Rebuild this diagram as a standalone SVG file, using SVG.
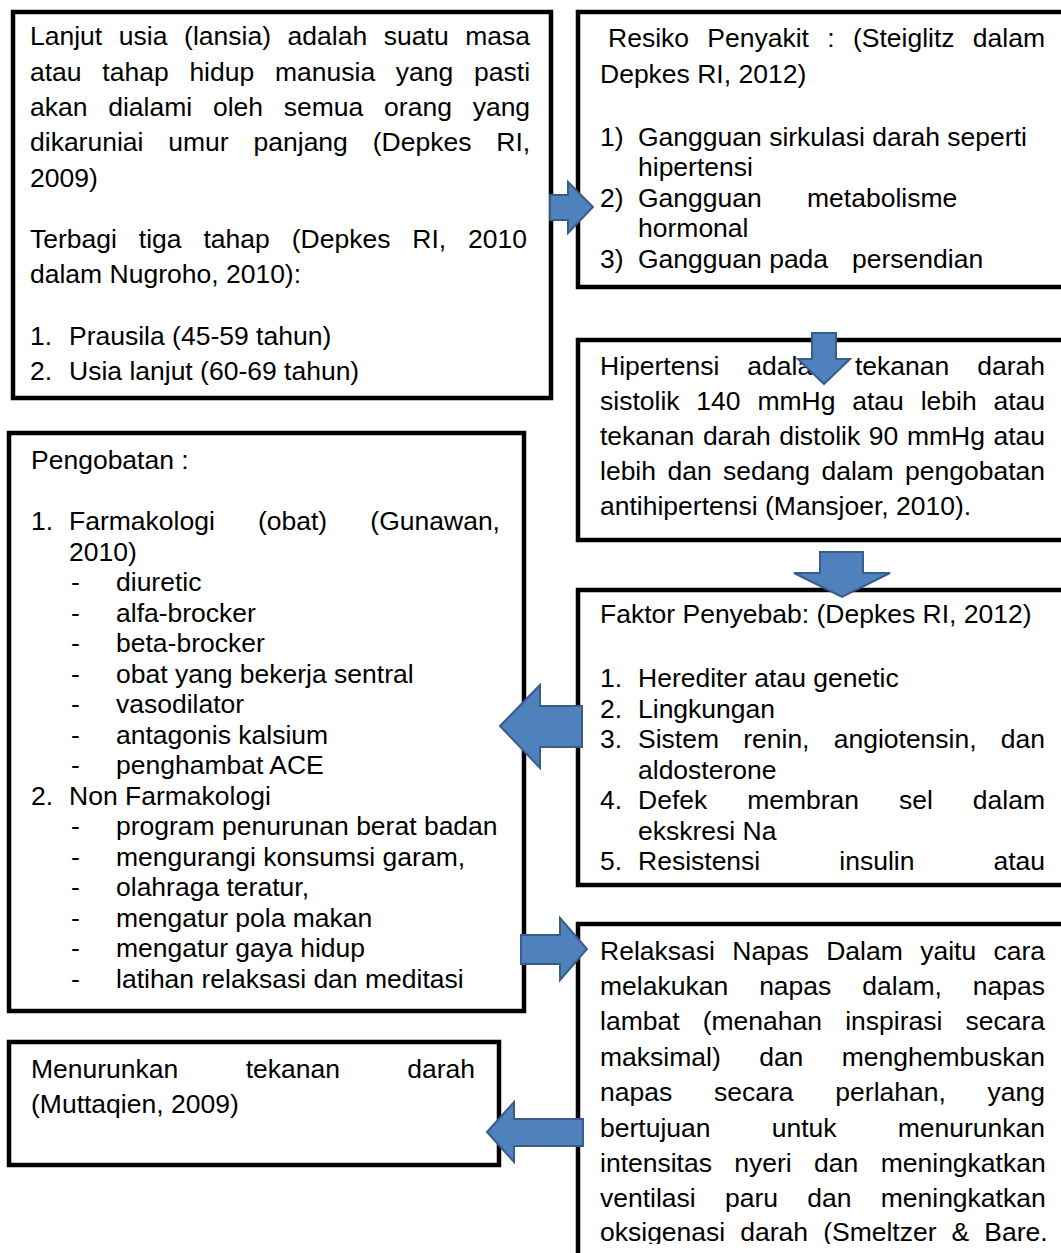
<svg xmlns="http://www.w3.org/2000/svg" width="1061" height="1253" viewBox="0 0 1061 1253">
<style>
.box{fill:#fff;stroke:#000;stroke-width:4.5}
text{font-family:"Liberation Sans",Arial,sans-serif;font-size:26.5px;fill:#000}
.arr{fill:#4F81BD;stroke:#385D8A;stroke-width:2;stroke-linejoin:miter}
</style>
<defs>
<clipPath id="c5"><rect x="578" y="924" width="500" height="320"/></clipPath>
</defs>
<rect width="1061" height="1253" fill="#fff"/>

<g id="lansia">
<rect class="box" x="13" y="12" width="538" height="386"/>
<text x="30" y="45" word-spacing="9.27">Lanjut usia (lansia) adalah suatu masa</text>
<text x="30" y="81" word-spacing="13.38">atau tahap hidup manusia yang pasti</text>
<text x="30" y="116" word-spacing="13.4">akan dialami oleh semua orang yang</text>
<text x="30" y="151" word-spacing="17.5">dikaruniai umur panjang (Depkes RI,</text>
<text x="30" y="187">2009)</text>
<text x="30" y="248" word-spacing="14.56">Terbagi tiga tahap (Depkes RI, 2010</text>
<text x="30" y="283">dalam Nugroho, 2010):</text>
<text x="30" y="345">1.</text><text x="69" y="345">Prausila (45-59 tahun)</text>
<text x="30" y="380">2.</text><text x="69" y="380">Usia lanjut (60-69 tahun)</text>
</g>

<g id="resiko">
<rect class="box" x="578" y="12" width="520" height="275"/>
<text x="608" y="47" word-spacing="10.95">Resiko Penyakit : (Steiglitz dalam</text>
<text x="600" y="82.5">Depkes RI, 2012)</text>
<text x="600" y="145.5">1)</text><text x="638" y="145.5">Gangguan sirkulasi darah seperti</text>
<text x="638" y="176">hipertensi</text>
<text x="600" y="206.5">2)</text><text x="638" y="206.5">Gangguan</text><text x="807" y="206.5">metabolisme</text>
<text x="638" y="237">hormonal</text>
<text x="600" y="267.5">3)</text><text x="638" y="267.5">Gangguan pada</text><text x="852" y="267.5">persendian</text>
</g>

<g id="hipertensi">
<rect class="box" x="578" y="340" width="520" height="200"/>
<text x="600" y="375" word-spacing="20.67">Hipertensi adalah tekanan darah</text>
<text x="600" y="410" word-spacing="9.47">sistolik 140 mmHg atau lebih atau</text>
<text x="600" y="445" word-spacing="1.22">tekanan darah distolik 90 mmHg atau</text>
<text x="600" y="480" word-spacing="4.08">lebih dan sedang dalam pengobatan</text>
<text x="600" y="515">antihipertensi (Mansjoer, 2010).</text>
</g>

<g id="faktor">
<rect class="box" x="578" y="590" width="520" height="295"/>
<text x="600" y="623">Faktor Penyebab: (Depkes RI, 2012)</text>
<text x="600" y="687">1.</text><text x="638" y="687">Herediter atau genetic</text>
<text x="600" y="717.5">2.</text><text x="638" y="717.5">Lingkungan</text>
<text x="600" y="748">3.</text><text x="638" y="748" word-spacing="16.84">Sistem renin, angiotensin, dan</text>
<text x="638" y="778.5">aldosterone</text>
<text x="600" y="809">4.</text><text x="638" y="809" word-spacing="32.58">Defek membran sel dalam</text>
<text x="638" y="839.5">ekskresi Na</text>
<text x="600" y="870">5.</text><text x="638" y="870" word-spacing="71.7">Resistensi insulin atau</text>
</g>

<g id="relaksasi">
<rect class="box" x="578" y="924" width="520" height="360"/>
<g clip-path="url(#c5)">
<text x="600" y="960" word-spacing="10">Relaksasi Napas Dalam yaitu cara</text>
<text x="600" y="995" word-spacing="23.62">melakukan napas dalam, napas</text>
<text x="600" y="1030" word-spacing="15.8">lambat (menahan inspirasi secara</text>
<text x="600" y="1066" word-spacing="31.05">maksimal) dan menghembuskan</text>
<text x="600" y="1101" word-spacing="34.43">napas secara perlahan, yang</text>
<text x="600" y="1137" word-spacing="53.8">bertujuan untuk menurunkan</text>
<text x="600" y="1172" word-spacing="15">intensitas nyeri dan meningkatkan</text>
<text x="600" y="1207" word-spacing="21.87">ventilasi paru dan meningkatkan</text>
<text x="600" y="1241" word-spacing="7.72">oksigenasi darah (Smeltzer &amp; Bare.</text>
</g>
</g>

<g id="pengobatan">
<rect class="box" x="9" y="433" width="515" height="578"/>
<text x="31" y="469">Pengobatan :</text>
<text x="31" y="530">1.</text><text x="69" y="530" word-spacing="35.8">Farmakologi (obat) (Gunawan,</text>
<text x="69" y="560.5">2010)</text>
<text x="71" y="591">-</text><text x="116" y="591">diuretic</text>
<text x="71" y="621.5">-</text><text x="116" y="621.5">alfa-brocker</text>
<text x="71" y="652">-</text><text x="116" y="652">beta-brocker</text>
<text x="71" y="682.5">-</text><text x="116" y="682.5">obat yang bekerja sentral</text>
<text x="71" y="713">-</text><text x="116" y="713">vasodilator</text>
<text x="71" y="743.5">-</text><text x="116" y="743.5">antagonis kalsium</text>
<text x="71" y="774">-</text><text x="116" y="774">penghambat ACE</text>
<text x="31" y="804.5">2.</text><text x="69" y="804.5">Non Farmakologi</text>
<text x="71" y="835">-</text><text x="116" y="835">program penurunan berat badan</text>
<text x="71" y="865.5">-</text><text x="116" y="865.5">mengurangi konsumsi garam,</text>
<text x="71" y="896">-</text><text x="116" y="896">olahraga teratur,</text>
<text x="71" y="926.5">-</text><text x="116" y="926.5">mengatur pola makan</text>
<text x="71" y="957">-</text><text x="116" y="957">mengatur gaya hidup</text>
<text x="71" y="987.5">-</text><text x="116" y="987.5">latihan relaksasi dan meditasi</text>
</g>

<g id="menurunkan">
<rect class="box" x="9" y="1042" width="490" height="123"/>
<text x="31" y="1078" word-spacing="59.95">Menurunkan tekanan darah</text>
<text x="31" y="1113">(Muttaqien, 2009)</text>
</g>

<g id="connectors">
<polygon class="arr" points="550,195 568,195 568,182 593,207 568,233 568,220 550,220"/>
<polygon class="arr" points="812,333 836,333 836,359 850,359 824,384 798,359 812,359"/>
<polygon class="arr" points="820,552 863,552 863,573 890,573 842,597 794,573 820,573"/>
<polygon class="arr" points="521,935 560,935 560,918 587,949 560,980 560,964 521,964"/>
<polygon class="arr" points="582,706 540,706 540,685 500,726 540,768 540,747 582,747"/>
<polygon class="arr" points="583,1119 514,1119 514,1102 487,1132 514,1162 514,1146 583,1146"/>
</g>
</svg>
